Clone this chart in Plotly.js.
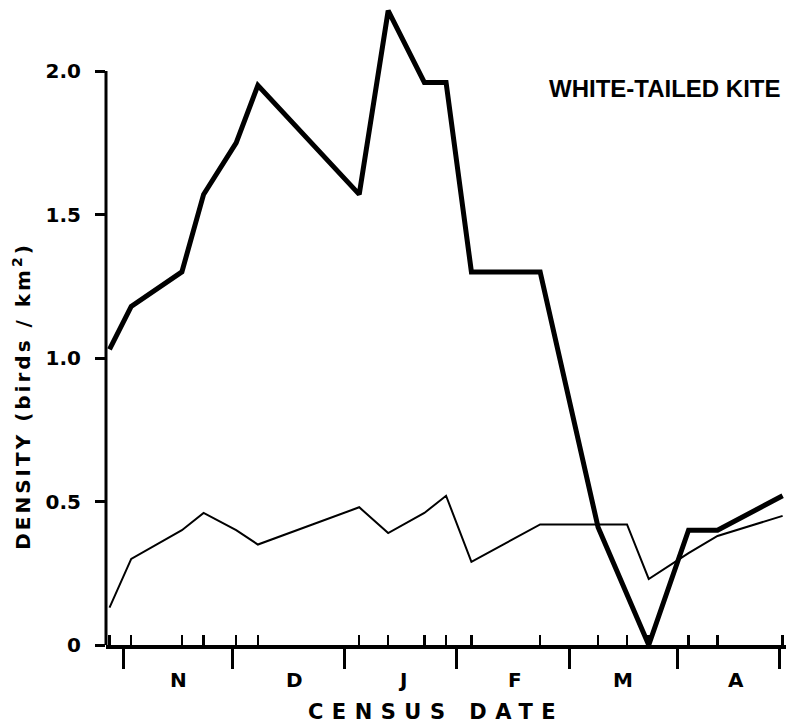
<!DOCTYPE html>
<html>
<head>
<meta charset="utf-8">
<script src="https://cdn.plot.ly/plotly-3.0.1.min.js"></script>
<style>
  html, body { margin: 0; padding: 0; background: #ffffff; }
  #chart { width: 789px; height: 727px; }
</style>
</head>
<body>
<div id="chart"></div>
<script>
// Census dates: days counted from 1 November
const censusDays = [-4, 2, 16, 22, 31, 37, 65, 73, 83, 89, 96, 115, 131, 139, 145, 156, 164, 182];
// Upper (thick) curve, birds / km2
const densityThick = [1.03, 1.18, 1.30, 1.57, 1.75, 1.95, 1.57, 2.21, 1.96, 1.96, 1.30, 1.30, 0.41, 0.18, 0.00, 0.40, 0.40, 0.52];
// Lower (thin) curve, birds / km2
const densityThin = [0.13, 0.30, 0.40, 0.46, 0.40, 0.35, 0.48, 0.39, 0.46, 0.52, 0.29, 0.42, 0.42, 0.42, 0.23, 0.32, 0.38, 0.45];
// Month boundaries (days from 1 Nov) and month labels
const monthBounds = [0, 30, 61, 92, 123, 153, 181];
const monthLabels = ['N', 'D', 'J', 'F', 'M', 'A'];
const monthLabelPos = [15, 47, 77, 108, 138, 169];
// Y ticks
const yTickVals = [0, 0.5, 1.0, 1.5, 2.0];
const yTickText = ['0', '0.5', '1.0', '1.5', '2.0'];
const chartTitle = 'WHITE-TAILED KITE';
const xTitle = 'CENSUS DATE';
const yTitle = 'DENSITY (birds / km<sup>2</sup>)';

const xRange = [-4.97, 182.93];
const yRange = [0, 2.23];
const boldFont = 'DejaVu Sans, sans-serif';

const traces = [
  {
    x: censusDays, y: densityThin, type: 'scatter', mode: 'lines',
    line: { color: '#000', width: 2 }, xaxis: 'x', yaxis: 'y', showlegend: false
  },
  {
    x: censusDays, y: densityThick, type: 'scatter', mode: 'lines',
    line: { color: '#000', width: 5 }, xaxis: 'x', yaxis: 'y', showlegend: false
  },
  // carrier for the census-date tick axis
  { x: [censusDays[0]], y: [null], xaxis: 'x2', yaxis: 'y', type: 'scatter', mode: 'lines', showlegend: false, hoverinfo: 'skip' }
];

const annotations = monthLabels.map((m, i) => ({
  text: m, x: monthLabelPos[i], xref: 'x', y: 0, yref: 'paper',
  yshift: -35, xanchor: 'center', yanchor: 'middle', showarrow: false,
  font: { family: boldFont, size: 20, weight: 'bold', color: '#000' }
}));
annotations.push({
  text: chartTitle, x: 0.9956, xref: 'paper', y: 0.870, yref: 'paper',
  xanchor: 'right', yanchor: 'middle', showarrow: false,
  font: { family: 'Liberation Sans, Arial, sans-serif', size: 24, weight: 'bold', color: '#000' }
});

const layout = {
  width: 789, height: 727,
  margin: { l: 106, r: 3, t: 5, b: 82 },
  paper_bgcolor: '#fff', plot_bgcolor: '#fff',
  showlegend: false,
  xaxis: {
    range: xRange, tickmode: 'array', tickvals: monthBounds,
    ticks: 'outside', ticklen: 20, tickwidth: 3, tickcolor: '#000',
    showline: true, linecolor: '#000', linewidth: 4,
    showgrid: false, zeroline: false, showticklabels: false, fixedrange: true,
    title: { text: xTitle, standoff: 37, font: { family: boldFont, size: 21, weight: 'bold', color: '#000' } }
  },
  xaxis2: {
    range: xRange, overlaying: 'x', anchor: 'y', side: 'bottom',
    tickmode: 'array', tickvals: censusDays,
    ticks: 'inside', ticklen: 10, tickwidth: 2.5, tickcolor: '#000',
    showline: false, showgrid: false, zeroline: false, showticklabels: false, fixedrange: true
  },
  yaxis: {
    range: yRange, tickmode: 'array', tickvals: yTickVals, ticktext: yTickText,
    ticks: 'outside', ticklen: 10, tickwidth: 3, tickcolor: '#000',
    ticklabelstandoff: 10,
    tickfont: { family: boldFont, size: 20, weight: 'bold', color: '#000' },
    showline: false, showgrid: false, zeroline: false, fixedrange: true,
    title: { text: yTitle, standoff: 9, font: { family: boldFont, size: 20, weight: 'bold', color: '#000' } }
  },
  shapes: [{
    type: 'line', xref: 'paper', x0: 0, x1: 0, yref: 'y', y0: 0, y1: yTickVals[yTickVals.length - 1],
    line: { color: '#000', width: 3 }
  }],
  annotations: annotations
};

function finishText() {
  const gd = document.getElementById('chart');
  gd.querySelectorAll('.g-xtitle').forEach(g => { g.setAttribute('transform', 'translate(-10,0)'); });
  gd.querySelectorAll('.g-xtitle text').forEach(t => { t.style.letterSpacing = '8.5px'; });
  // the printed label sits below the middle of the axis
  gd.querySelectorAll('.g-ytitle').forEach(g => { g.setAttribute('transform', 'translate(0,71)'); });
  gd.querySelectorAll('.g-ytitle text').forEach(t => { t.style.letterSpacing = '3px'; });
}

Plotly.newPlot('chart', traces, layout, { displayModeBar: false, staticPlot: true }).then(finishText);
</script>
</body>
</html>
